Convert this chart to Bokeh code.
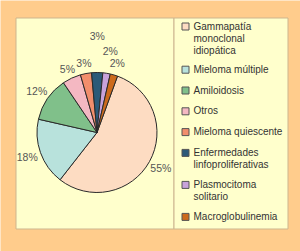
import math
from bokeh.plotting import figure
from bokeh.models import Range1d, ColumnDataSource
from bokeh.core.properties import value
from bokeh.embed import file_html
from bokeh.resources import INLINE

# ---- data ----
categories = ["Gammapatía\nmonoclonal\nidiopática", "Mieloma múltiple", "Amiloidosis", "Otros",
              "Mieloma quiescente", "Enfermedades\nlinfoproliferativas", "Plasmocitoma\nsolitario",
              "Macroglobulinemia"]
values = [55, 18, 12, 5, 3, 3, 2, 2]
pct_labels = ["55%", "18%", "12%", "5%", "3%", "3%", "2%", "2%"]
colors = ["#FDDCC2", "#B8E2DC", "#80C08A", "#F4B8C2", "#F28E6C", "#2C5A78", "#C8A2DA", "#CC6A1C"]
label_radius = [73, 74, 73, 70, 71, 97, 83, 72]

W, H = 300, 251
p = figure(width=W, height=H, output_backend="svg", toolbar_location=None,
           x_range=Range1d(0, W), y_range=Range1d(0, H), min_border=0)
p.axis.visible = False
p.grid.visible = False
p.outline_line_color = None
p.background_fill_color = "#FFCC8C"
p.border_fill_color = "#FFCC8C"

def Y(y):
    return H - y

# panels
p.quad(left=[15.5, 173.5], right=[173.5, 287.5], top=[Y(17.5), Y(17.5)], bottom=[Y(228.5), Y(228.5)],
       fill_color="#FFFFCC", line_color="#CDB58E", line_width=1)

# pie
cx, cy, r = 96.5, Y(132), 60
start_offset = 20.0  # degrees clockwise from top
total = float(sum(values))
starts, ends, mids = [], [], []
cum = 0.0
for v in values:
    a0 = start_offset + cum / total * 360
    a1 = start_offset + (cum + v) / total * 360
    cum += v
    starts.append(math.radians(90 - a1))
    ends.append(math.radians(90 - a0))
    mids.append(math.radians(90 - (a0 + a1) / 2))

src = ColumnDataSource(dict(start=starts, end=ends, color=colors))
p.wedge(x=cx, y=cy, radius=r, start_angle="start", end_angle="end", fill_color="color",
        line_color="#2A2A2A", line_width=1, source=src)

lx = [cx + rr * math.cos(m) for rr, m in zip(label_radius, mids)]
ly = [cy + rr * math.sin(m) for rr, m in zip(label_radius, mids)]
p.text(x=lx, y=ly, text=pct_labels, text_font=value("Liberation Sans"), text_font_size="10.5px",
       text_color="#555555", text_align="center", text_baseline="middle")

# legend
sq_x, tx = 185, 193
y0, step, extra = 26, 20.8, 11.2
ys = []
yy = y0
for c in categories:
    ys.append(yy)
    yy += step + extra * c.count("\n")
p.rect(x=[sq_x] * len(ys), y=[Y(v) for v in ys], width=7, height=7, fill_color=colors,
       line_color="#555555", line_width=1)
p.text(x=[tx] * len(ys), y=[Y(v) + 6 for v in ys], text=categories, text_font=value("Liberation Sans"),
       text_font_size="10px", text_color="#333333", text_align="left", text_baseline="top",
       text_line_height=1.12)

open("out.html", "w").write(file_html(p, INLINE))
